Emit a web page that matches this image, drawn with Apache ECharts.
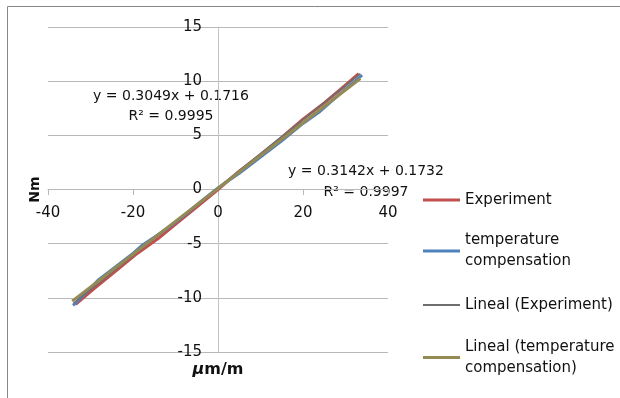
<!DOCTYPE html>
<html>
<head>
<meta charset="utf-8">
<script src="https://cdn.jsdelivr.net/npm/echarts@6/dist/echarts.min.js"></script>
<style>
  html, body { margin: 0; padding: 0; background: #fff; }
  #chart { width: 620px; height: 398px; }
</style>
</head>
<body>
<div id="chart"></div>
<script>
// series values
const expX = [-33.5, -29, -24, -19, -14, -9, -4, 0, 5, 10, 15, 20, 25, 29, 33.1];
const expY = [-10.6, -9.1, -7.5, -5.9, -4.5, -2.9, -1.3, 0, 1.7, 3.2, 4.8, 6.5, 8.0, 9.3, 10.7];

const compX = [-34.1, -31, -28, -24, -20, -18, -15, -12, -8, -4, 0, 5, 10, 15, 20, 24, 28, 33.9];
const compY = [-10.7, -9.5, -8.3, -7.1, -5.9, -5.2, -4.4, -3.6, -2.4, -1.1, 0.15, 1.5, 3.0, 4.5, 6.1, 7.2, 8.6, 10.55];

// trend line end points
const trendExpX = [-34, 33.5];
const trendExpY = [-10.5, 10.7];
const trendCompX = [-34.3, 33.5];
const trendCompY = [-10.3, 10.25];

const seriesNames = [
  "Experiment",
  "temperature\ncompensation",
  "Lineal (Experiment)",
  "Lineal (temperature\ncompensation)",
];
const eqComp = ["y = 0.3049x + 0.1716", "R\u00b2 = 0.9995"];
const eqExp = ["y = 0.3142x + 0.1732", "R\u00b2 = 0.9997"];

const pairs = (xs, ys) => xs.map((x, i) => [x, ys[i]]);

const FONT = "DejaVu Sans";

const legendItem = (name, top, twoLines, h) => ({
  left: 423,
  top: top,
  orient: "vertical",
  padding: 0,
  itemGap: 0,
  icon: "rect",
  itemWidth: 37,
  itemHeight: h,
  selectedMode: false,
  data: [name],
  textStyle: {
    fontFamily: FONT,
    fontSize: 15,
    color: "#111",
    lineHeight: 21,
    padding: twoLines ? [21, 0, 0, 0] : 0,
  },
});

const chart = echarts.init(document.getElementById("chart"));

// axes cross at the origin: shift them in from the grid edges
const X_SHIFT = -163; // bottom edge (352) up to y = 0 (189)
const Y_SHIFT = -170; // left edge (48) over to x = 0 (218)

const option = {
  animation: false,
  backgroundColor: "#fff",
  grid: { left: 48, right: 232, top: 27, bottom: 46, outerBoundsMode: "none", containLabel: false },
  xAxis: {
    type: "value",
    min: -40,
    max: 40,
    interval: 20,
    offset: X_SHIFT,
    name: "{i|\u00b5}{b|m/m}",
    nameLocation: "middle",
    nameGap: 173,
    nameTextStyle: {
      rich: {
        i: { fontFamily: FONT, fontSize: 16, fontWeight: "bold", fontStyle: "italic", color: "#111" },
        b: { fontFamily: FONT, fontSize: 16, fontWeight: "bold", color: "#111" },
      },
    },
    axisLine: { onZero: false, lineStyle: { color: "#b8b8b8", width: 1 } },
    axisTick: { show: true, inside: false, length: 6, lineStyle: { color: "#b8b8b8" } },
    axisLabel: { margin: 17, fontFamily: FONT, fontSize: 15, color: "#111" },
    splitLine: { show: false },
  },
  yAxis: {
    type: "value",
    min: -15,
    max: 15,
    interval: 5,
    offset: Y_SHIFT,
    name: "Nm",
    nameLocation: "middle",
    nameGap: 176,
    nameTextStyle: { fontFamily: FONT, fontSize: 14, fontWeight: "bold", color: "#111" },
    axisLine: { show: true, onZero: false, lineStyle: { color: "#c4c4c4", width: 1 } },
    axisTick: { show: false },
    axisLabel: { margin: 16, fontFamily: FONT, fontSize: 15, color: "#111" },
    splitLine: { show: true, lineStyle: { color: "#b8b8b8", width: 1 } },
  },
  legend: [
    legendItem(seriesNames[0], 189.5, false, 3),
    legendItem(seriesNames[1], 219.5, true, 3),
    legendItem(seriesNames[2], 294.5, false, 2),
    legendItem(seriesNames[3], 326, true, 3),
  ],
  series: [
    {
      name: seriesNames[0],
      type: "line",
      symbol: "none",
      color: "#c0504d",
      lineStyle: { width: 3 },
      data: pairs(expX, expY),
    },
    {
      name: seriesNames[1],
      type: "line",
      symbol: "none",
      color: "#4f81bd",
      lineStyle: { width: 3 },
      data: pairs(compX, compY),
    },
    {
      name: seriesNames[2],
      type: "line",
      symbol: "none",
      color: "#6e6e6e",
      lineStyle: { width: 1.5 },
      data: pairs(trendExpX, trendExpY),
    },
    {
      name: seriesNames[3],
      type: "line",
      symbol: "none",
      color: "#948a54",
      lineStyle: { width: 3 },
      data: pairs(trendCompX, trendCompY),
    },
  ],
  graphic: [
    {
      type: "rect",
      z: -1,
      shape: { x: 7.5, y: 6.5, width: 700, height: 500 },
      style: { fill: "none", stroke: "#878787", lineWidth: 1 },
    },
    {
      type: "text",
      x: 171,
      y: 86,
      style: {
        text: eqComp.join("\n"),
        fontFamily: FONT,
        fontSize: 14,
        lineHeight: 20,
        fill: "#111",
        align: "center",
        verticalAlign: "top",
      },
    },
    {
      type: "text",
      x: 366,
      y: 161,
      style: {
        text: eqExp.join("\n"),
        fontFamily: FONT,
        fontSize: 14,
        lineHeight: 21,
        fill: "#111",
        align: "center",
        verticalAlign: "top",
      },
    },
  ],
};

chart.setOption(option);
</script>
</body>
</html>
